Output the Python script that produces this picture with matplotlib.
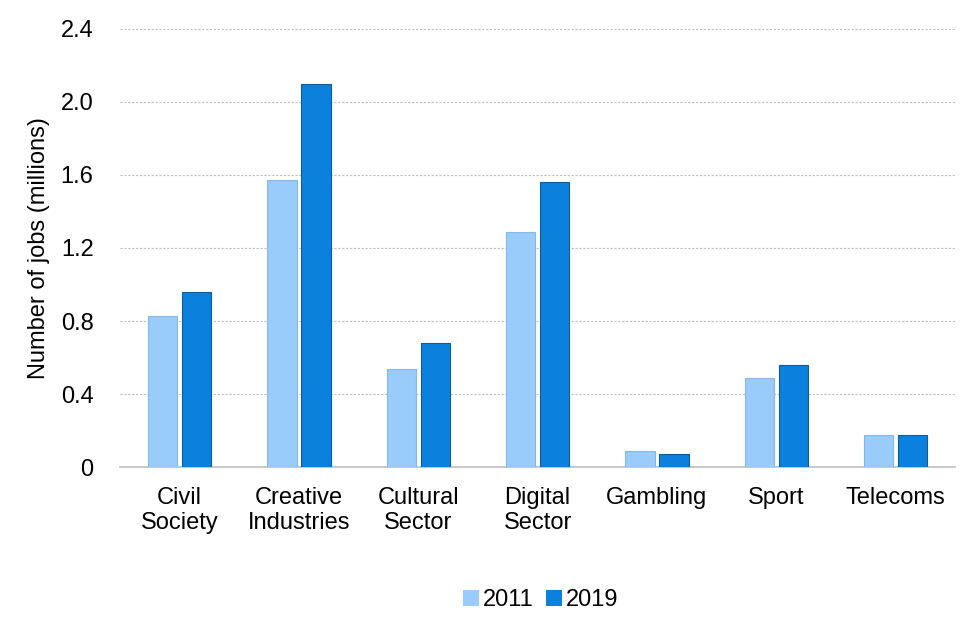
import matplotlib
matplotlib.use("Agg")
import matplotlib.pyplot as plt
import numpy as np
from matplotlib.patches import Patch

plt.rcParams['font.family'] = ['Liberation Sans', 'DejaVu Sans']

categories = ["Civil\nSociety", "Creative\nIndustries", "Cultural\nSector", "Digital\nSector",
              "Gambling", "Sport", "Telecoms"]
values_2011 = [0.83, 1.57, 0.54, 1.29, 0.09, 0.49, 0.175]
values_2019 = [0.96, 2.10, 0.68, 1.56, 0.07, 0.56, 0.175]
yticks = [0, 0.4, 0.8, 1.2, 1.6, 2.0, 2.4]
yticklabels = ["0", "0.4", "0.8", "1.2", "1.6", "2.0", "2.4"]

c_light = "#99CBFB"
c_dark = "#0B80DC"
fs = 17

fig = plt.figure(figsize=(9.6, 6.4), dpi=100)
ax = fig.add_axes([0.125, 0.27, 0.87, 0.685])

x = np.arange(len(categories))
w = 0.245
gap = 0.04
ax.bar(x - w/2 - gap/2, values_2011, width=w, color=c_light, edgecolor="#86B9EA", linewidth=0.8, zorder=3)
ax.bar(x + w/2 + gap/2, values_2019, width=w, color=c_dark, edgecolor="#0A5E9F", linewidth=0.8, zorder=3)

ax.set_xlim(-0.5, len(categories) - 0.5)
ax.set_ylim(0, 2.4)
ax.set_yticks(yticks)
ax.set_yticklabels(yticklabels)
ax.set_xticks(x)
ax.set_xticklabels(categories, fontsize=fs, linespacing=1.2)
ax.tick_params(axis='y', labelsize=fs, length=0, pad=19)
ax.tick_params(axis='x', length=0, pad=14)

for yv in yticks[1:]:
    ax.axhline(yv, color="#BFBFBF", linewidth=0.8, linestyle=(0, (2, 1.5)), zorder=1)
for s in ["top", "right", "left"]:
    ax.spines[s].set_visible(False)
ax.spines["bottom"].set_color("#BFBFBF")
ax.spines["bottom"].set_linewidth(1.2)

ax.set_ylabel("Number of jobs (millions)", fontsize=fs, labelpad=8)

handles = [Patch(facecolor=c_light, edgecolor="none", label="2011"),
           Patch(facecolor=c_dark, edgecolor="none", label="2019")]
fig.legend(handles=handles, loc="center", bbox_to_anchor=(0.563, 0.062), ncol=2, frameon=False,
           fontsize=fs, handlelength=0.7, handleheight=0.7, handletextpad=0.15, columnspacing=0.5)

fig.savefig("out.png", dpi=100)
